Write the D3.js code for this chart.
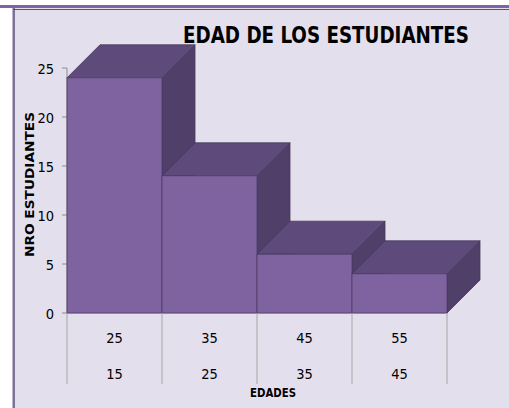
<!DOCTYPE html>
<html>
<head>
<meta charset="utf-8">
<script src="https://cdn.jsdelivr.net/npm/d3@7"></script>
<style>
	body { margin: 0; background: #fff; }
	text { font-family: "Liberation Sans Narrow", "DejaVu Sans Condensed", "Open Sans", sans-serif; fill: #000; }
</style>
</head>
<body>
<svg id="chart" width="509" height="408"></svg>
<script>
var categories = ["15-25", "25-35", "35-45", "45-55"];
var lowerLabels = ["15", "25", "35", "45"];
var upperLabels = ["25", "35", "45", "55"];
var students = [24, 14, 6, 4];
var yTicks = [0, 5, 10, 15, 20, 25];

var svg = d3.select("#chart"),
	width = +svg.attr("width"),
	height = +svg.attr("height"),
	depth = 33;

// frame
svg.append("rect").attr("x", 13).attr("y", 8).attr("width", width - 13).attr("height", height - 8)
	.attr("fill", "#e4dfec");
svg.append("line").attr("x1", 12.5).attr("x2", 12.5).attr("y1", 8).attr("y2", height)
	.attr("stroke", "#bcb3cc").attr("stroke-width", 1);
svg.append("line").attr("x1", 14).attr("x2", 14).attr("y1", 8).attr("y2", height)
	.attr("stroke", "#5c4f78").attr("stroke-width", 1.5);
svg.append("line").attr("x1", 13).attr("x2", width).attr("y1", 9.5).attr("y2", 9.5)
	.attr("stroke", "#5c4f78").attr("stroke-width", 1);
svg.append("rect").attr("x", 0).attr("y", 5).attr("width", width).attr("height", 3)
	.attr("fill", "#8064a2");

var x = d3.scaleBand()
	.domain(categories)
	.range([67, 447])
	.padding(0);

var y = d3.scaleLinear()
	.domain([0, 25])
	.range([313, 68]);

var g = svg.append("g");

// y axis
g.append("line").attr("x1", 67).attr("x2", 67).attr("y1", y(25)).attr("y2", y(0))
	.attr("stroke", "#8c8c8c");
g.selectAll(".ytick").data(yTicks).enter().append("line")
	.attr("x1", 62).attr("x2", 67)
	.attr("y1", function(d) { return y(d); }).attr("y2", function(d) { return y(d); })
	.attr("stroke", "#8c8c8c");
g.selectAll(".ylab").data(yTicks).enter().append("text")
	.attr("x", 54).attr("y", function(d) { return y(d) + 5.5; })
	.attr("text-anchor", "end").attr("font-size", 14.5)
	.text(function(d) { return d; });

// bars, left to right so the next one covers the side of the previous
var bars = g.selectAll(".bar").data(students).enter().append("g").attr("class", "bar");
bars.each(function(d, i) {
	var b = d3.select(this),
		x0 = x(categories[i]),
		x1 = x0 + x.bandwidth(),
		y0 = y(0),
		y1 = y(d);
	b.append("path")
		.attr("d", "M" + x1 + "," + y1 + "L" + (x1 + depth) + "," + (y1 - depth) +
			"L" + (x1 + depth) + "," + (y0 - depth) + "L" + x1 + "," + y0 + "Z")
		.attr("fill", "#4f3f69").attr("stroke", "#45375c").attr("stroke-width", 0.8);
	b.append("path")
		.attr("d", "M" + x0 + "," + y1 + "L" + (x0 + depth) + "," + (y1 - depth) +
			"L" + (x1 + depth) + "," + (y1 - depth) + "L" + x1 + "," + y1 + "Z")
		.attr("fill", "#5f4b7b").attr("stroke", "#45375c").attr("stroke-width", 0.8);
	b.append("rect")
		.attr("x", x0).attr("y", y1).attr("width", x.bandwidth()).attr("height", y0 - y1)
		.attr("fill", "#7f63a0").attr("stroke", "#4d3d66").attr("stroke-width", 0.8);
});

// x axis with two label rows
g.append("line").attr("x1", 67).attr("x2", 447).attr("y1", 313.5).attr("y2", 313.5)
	.attr("stroke", "#8c8c8c");
var bounds = categories.map(function(c) { return x(c); }).concat([x.range()[1]]);
g.selectAll(".xsep").data(bounds).enter().append("line")
	.attr("x1", function(d) { return d; }).attr("x2", function(d) { return d; })
	.attr("y1", 313).attr("y2", 384)
	.attr("stroke", "#a6a6a6");
g.selectAll(".up").data(categories).enter().append("text")
	.attr("x", function(d) { return x(d) + x.bandwidth() / 2; }).attr("y", 343)
	.attr("text-anchor", "middle").attr("font-size", 14.5)
	.text(function(d, i) { return upperLabels[i]; });
g.selectAll(".low").data(categories).enter().append("text")
	.attr("x", function(d) { return x(d) + x.bandwidth() / 2; }).attr("y", 379)
	.attr("text-anchor", "middle").attr("font-size", 14.5)
	.text(function(d, i) { return lowerLabels[i]; });

// titles
svg.append("text").attr("x", 326).attr("y", 42.5).attr("text-anchor", "middle")
	.attr("font-size", 23).attr("font-weight", "bold")
	.attr("textLength", 286).attr("lengthAdjust", "spacingAndGlyphs")
	.text("EDAD DE LOS ESTUDIANTES");
svg.append("text").attr("x", 273).attr("y", 396.5).attr("text-anchor", "middle")
	.attr("font-size", 13).attr("font-weight", "bold")
	.attr("textLength", 46).attr("lengthAdjust", "spacingAndGlyphs")
	.text("EDADES");
svg.append("text").attr("transform", "translate(34,184.5) rotate(-90)").attr("text-anchor", "middle")
	.attr("font-size", 12).attr("font-weight", "bold")
	.attr("textLength", 145).attr("lengthAdjust", "spacingAndGlyphs")
	.text("NRO ESTUDIANTES");
</script>
</body>
</html>
